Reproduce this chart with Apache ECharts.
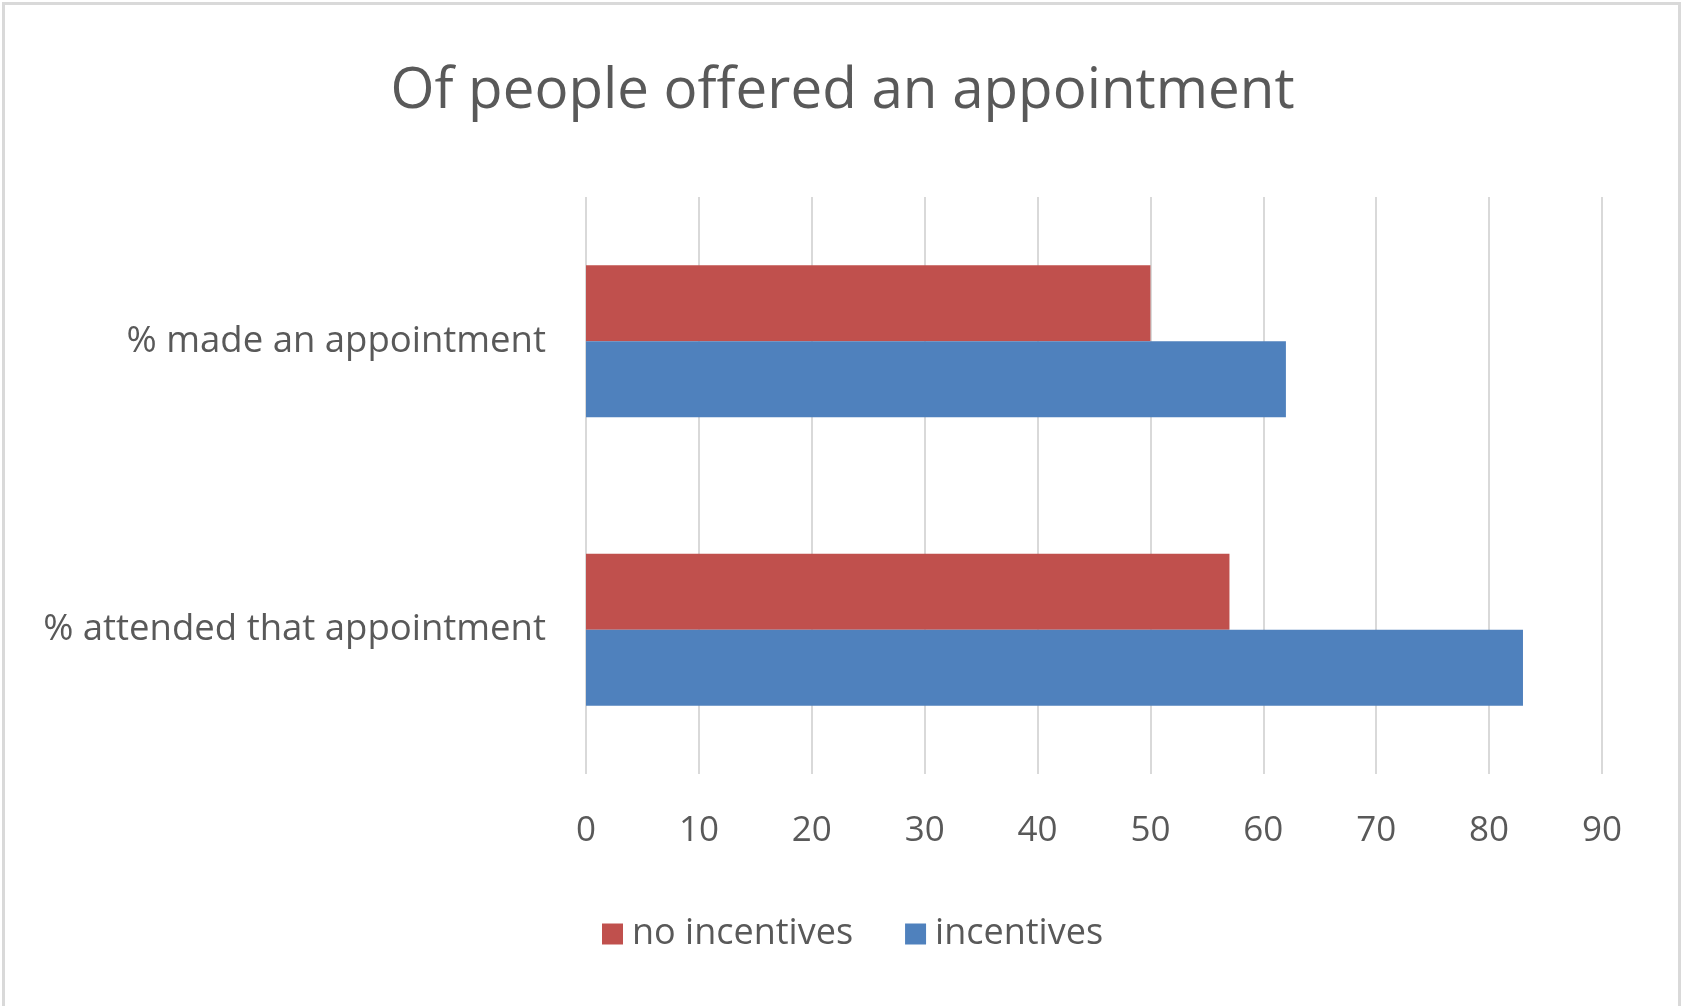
<!DOCTYPE html>
<html><head><meta charset="utf-8">
<script src="https://cdn.jsdelivr.net/npm/echarts@6/dist/echarts.min.js"></script>
<style>
html,body{margin:0;padding:0;background:#fff;}
#frame{position:absolute;left:2px;top:2px;width:1679px;height:1004px;border:3px solid #d9d9d9;border-bottom:none;box-sizing:border-box;}
#c{position:absolute;left:0;top:0;width:1685px;height:1008px;}
</style></head>
<body><div id="frame"></div><div id="c"></div>
<script>
const categories = ['% made an appointment', '% attended that appointment'];
const noIncentives = [50, 57];
const incentives = [62, 83];
const xTicks = [0, 10, 20, 30, 40, 50, 60, 70, 80, 90];
const seriesNames = ['no incentives', 'incentives'];

const FONT = 'Open Sans';
const chart = echarts.init(document.getElementById('c'));
chart.setOption({
  backgroundColor: 'transparent',
  animation: false,
  title: {
    text: 'Of people offered an appointment',
    left: 'center', top: 58,
    textStyle: {fontFamily: FONT, fontSize: 56.5, fontWeight: 'normal', color: '#595959'}
  },
  legend: {
    data: seriesNames,
    bottom: 51, left: 597,
    icon: 'rect',
    itemWidth: 21, itemHeight: 21, itemGap: 52,
    textStyle: {fontFamily: FONT, fontSize: 36, color: '#595959', padding:[0,0,0,4]}
  },
  grid: {left: 586, right: 83, top: 197, bottom: 234},
  xAxis: {
    type: 'value', min: xTicks[0], max: xTicks[xTicks.length-1], interval: 10,
    axisLine: {show: false}, axisTick: {show: false},
    splitLine: {lineStyle: {color: '#d9d9d9', width: 2}},
    axisLabel: {fontFamily: FONT, fontSize: 35, color: '#595959', margin: 40}
  },
  yAxis: {
    type: 'category', data: categories, inverse: true,
    axisLine: {show: false}, axisTick: {show: false},
    axisLabel: {fontFamily: FONT, fontSize: 36.5, color: '#595959', margin: 40}
  },
  series: [
    {name: seriesNames[0], type: 'bar', data: noIncentives, barWidth: 76, barGap: '0%', itemStyle: {color: '#C0504D'}},
    {name: seriesNames[1], type: 'bar', data: incentives, barWidth: 76, barGap: '0%', itemStyle: {color: '#4F81BD'}}
  ]
});
</script></body></html>
